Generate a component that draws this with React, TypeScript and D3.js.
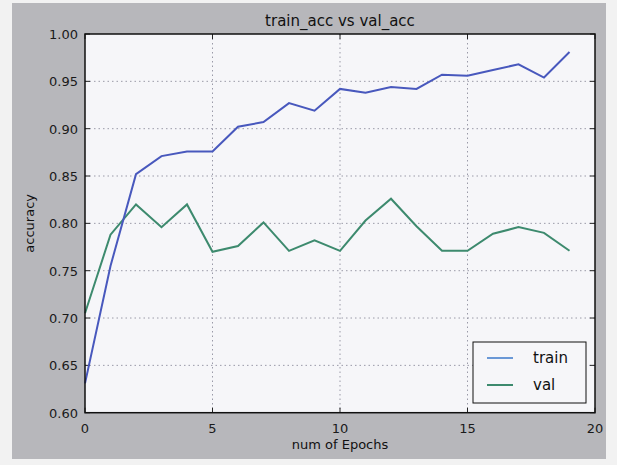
import React, { useEffect, useRef } from "react";
import * as d3 from "d3";

const epochs = d3.range(0, 20);
const trainAcc = [0.631, 0.755, 0.852, 0.871, 0.876, 0.876, 0.902, 0.907, 0.927, 0.919,
  0.942, 0.938, 0.944, 0.942, 0.957, 0.956, 0.962, 0.968, 0.954, 0.981];
const valAcc = [0.705, 0.788, 0.820, 0.796, 0.820, 0.770, 0.776, 0.801, 0.771, 0.782,
  0.771, 0.803, 0.826, 0.797, 0.771, 0.771, 0.789, 0.796, 0.790, 0.771];
const xTicks = [0, 5, 10, 15, 20];
const yTicks = [0.6, 0.65, 0.7, 0.75, 0.8, 0.85, 0.9, 0.95, 1.0];
const seriesNames = ["train", "val"];

const App = () => {
  const ref = useRef<SVGSVGElement>(null);

  useEffect(() => {
    const width = 617;
    const height = 465;
    const left = 85, right = 595, top = 34, bottom = 412.7;
    const font = "DejaVu Sans, sans-serif";

    const svg = d3.select(ref.current);
    svg.selectAll("*").remove();

    svg.append("rect").attr("width", width).attr("height", height).attr("fill", "#f2f2f2");
    svg.append("rect")
      .attr("x", 12).attr("y", 3).attr("width", 594).attr("height", 456)
      .attr("fill", "#b7b7bb");

    const x = d3.scaleLinear().domain([0, 20]).range([left, right]);
    const y = d3.scaleLinear().domain([0.6, 1.0]).range([bottom, top]);

    svg.append("rect")
      .attr("x", left).attr("y", top)
      .attr("width", right - left).attr("height", bottom - top)
      .attr("fill", "#f6f6f9");

    // grid
    const grid = svg.append("g").attr("stroke", "#9a9aa8").attr("stroke-dasharray", "1.5,3").attr("stroke-width", 1);
    xTicks.slice(1, -1).forEach(t => {
      grid.append("line").attr("x1", x(t)).attr("x2", x(t)).attr("y1", top).attr("y2", bottom);
    });
    yTicks.slice(1, -1).forEach(t => {
      grid.append("line").attr("x1", left).attr("x2", right).attr("y1", y(t)).attr("y2", y(t));
    });

    // ticks inside on all sides
    const ticks = svg.append("g").attr("stroke", "#222").attr("stroke-width", 1);
    xTicks.forEach(t => {
      ticks.append("line").attr("x1", x(t)).attr("x2", x(t)).attr("y1", bottom).attr("y2", bottom - 5);
      ticks.append("line").attr("x1", x(t)).attr("x2", x(t)).attr("y1", top).attr("y2", top + 5);
    });
    yTicks.forEach(t => {
      ticks.append("line").attr("x1", left).attr("x2", left + 5).attr("y1", y(t)).attr("y2", y(t));
      ticks.append("line").attr("x1", right).attr("x2", right - 5).attr("y1", y(t)).attr("y2", y(t));
    });

    const line = d3.line<number>().x((_, i) => x(epochs[i])).y(d => y(d));
    const colors = ["#4858bd", "#3d8a6e"];
    const legendColors = ["#6a98d6", "#3d8a6e"];

    svg.append("path").datum(valAcc).attr("d", line)
      .attr("fill", "none").attr("stroke", colors[1]).attr("stroke-width", 2);
    svg.append("path").datum(trainAcc).attr("d", line)
      .attr("fill", "none").attr("stroke", colors[0]).attr("stroke-width", 2);

    svg.append("rect")
      .attr("x", left).attr("y", top)
      .attr("width", right - left).attr("height", bottom - top)
      .attr("fill", "none").attr("stroke", "#111").attr("stroke-width", 1.5);

    // tick labels
    svg.append("g").selectAll("text").data(xTicks).enter().append("text")
      .attr("x", d => x(d)).attr("y", bottom + 20)
      .attr("text-anchor", "middle")
      .attr("font-family", font).attr("font-size", 13).attr("fill", "#1a1a1a")
      .text(d => d);
    svg.append("g").selectAll("text").data(yTicks).enter().append("text")
      .attr("x", left - 7).attr("y", d => y(d) + 5)
      .attr("text-anchor", "end")
      .attr("font-family", font).attr("font-size", 13).attr("fill", "#1a1a1a")
      .text(d => d3.format(".2f")(d));

    svg.append("text")
      .attr("x", (left + right) / 2).attr("y", 26)
      .attr("text-anchor", "middle")
      .attr("font-family", font).attr("font-size", 15).attr("fill", "#111")
      .text("train_acc vs val_acc");
    svg.append("text")
      .attr("x", (left + right) / 2).attr("y", 449)
      .attr("text-anchor", "middle")
      .attr("font-family", font).attr("font-size", 13).attr("fill", "#111")
      .text("num of Epochs");
    svg.append("text")
      .attr("transform", `translate(34, ${(top + bottom) / 2}) rotate(-90)`)
      .attr("text-anchor", "middle")
      .attr("font-family", font).attr("font-size", 13).attr("fill", "#111")
      .text("accuracy");

    // legend
    const lg = svg.append("g");
    lg.append("rect")
      .attr("x", 473).attr("y", 342).attr("width", 113).attr("height", 61)
      .attr("fill", "#f6f6f9").attr("stroke", "#111").attr("stroke-width", 1);
    seriesNames.forEach((name, i) => {
      const ly = 358 + i * 27;
      lg.append("line").attr("x1", 487).attr("x2", 513).attr("y1", ly).attr("y2", ly)
        .attr("stroke", legendColors[i]).attr("stroke-width", 2);
      lg.append("text").attr("x", 533).attr("y", ly + 5)
        .attr("font-family", font).attr("font-size", 15).attr("fill", "#111")
        .text(name);
    });
  }, []);

  return <svg ref={ref} width={617} height={465} style={{ display: "block", position: "absolute", left: 0, top: 0 }}></svg>;
};

export default App;
